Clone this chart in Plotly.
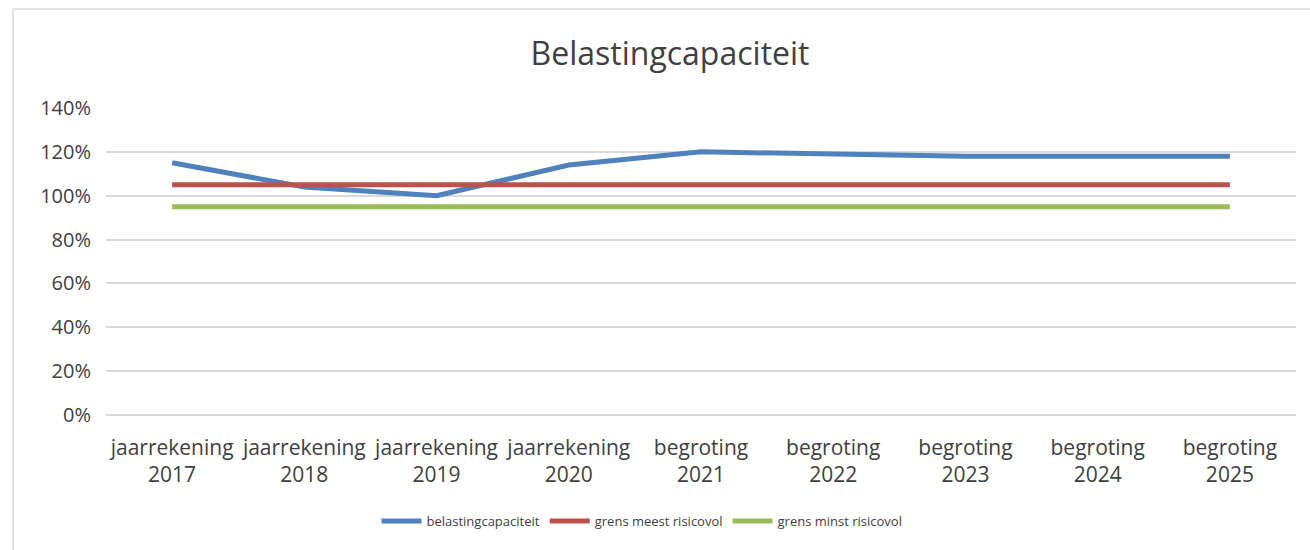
import plotly.graph_objects as go

categories = ["jaarrekening<br>2017", "jaarrekening<br>2018", "jaarrekening<br>2019",
              "jaarrekening<br>2020", "begroting<br>2021", "begroting<br>2022",
              "begroting<br>2023", "begroting<br>2024", "begroting<br>2025"]
belastingcapaciteit = [115, 104, 100, 114, 120, 119, 118, 118, 118]
grens_meest = [105, 105, 105, 105, 105, 105, 105, 105, 105]
grens_minst = [95, 95, 95, 95, 95, 95, 95, 95, 95]
y_ticks = [0, 20, 40, 60, 80, 100, 120, 140]
y_tick_labels = ["0%", "20%", "40%", "60%", "80%", "100%", "120%", "140%"]

font_family = "Open Sans, Noto Sans, Liberation Sans, sans-serif"

fig = go.Figure()
fig.add_trace(go.Scatter(x=categories, y=belastingcapaciteit, mode="lines",
                         name="belastingcapaciteit",
                         line=dict(color="#4f81bd", width=5)))
fig.add_trace(go.Scatter(x=categories, y=grens_meest, mode="lines",
                         name="grens meest risicovol",
                         line=dict(color="#c0504d", width=5)))
fig.add_trace(go.Scatter(x=categories, y=grens_minst, mode="lines",
                         name="grens minst risicovol",
                         line=dict(color="#9bbb59", width=5)))

L, R, T, B = 106, 14, 108, 135
W, H = 1310, 550
pw, ph = W - L - R, H - T - B

fig.update_layout(
    width=W, height=H,
    margin=dict(l=L, r=R, t=T, b=B),
    paper_bgcolor="white", plot_bgcolor="white",
    font=dict(family=font_family, color="#404040", size=18),
    title=dict(text="Belastingcapaciteit", x=670 / W, xref="container", xanchor="center",
               y=1 - 54 / H, yref="container", yanchor="middle",
               font=dict(size=32, color="#404040", family=font_family)),
    showlegend=True,
    legend=dict(orientation="h", x=(642 - L) / pw, xanchor="center",
                y=(H - B - 521) / ph, yanchor="middle",
                font=dict(size=13, color="#404040"), itemwidth=40,
                tracegroupgap=0),
    xaxis=dict(type="category", range=[-0.5, 8.5], showgrid=False,
               showline=False, ticks="", ticklabelstandoff=18,
               tickfont=dict(size=21, color="#404040")),
    yaxis=dict(range=[0, 140], tickmode="array", tickvals=y_ticks, ticktext=y_tick_labels,
               showgrid=True, gridcolor="#d9d9d9", gridwidth=1.5,
               zeroline=True, zerolinecolor="#d9d9d9", zerolinewidth=1.5,
               showline=False, ticks="", ticklabelstandoff=14,
               tickfont=dict(size=20, color="#404040")),
)

# chart-area border (left and top edges visible in the reference)
bx = (13 - L) / pw
by = (H - B - 9) / ph
fig.add_shape(type="line", xref="paper", yref="paper", x0=bx, x1=bx, y0=by, y1=-(B + 5) / ph,
              line=dict(color="#d9d9d9", width=1.5))
fig.add_shape(type="line", xref="paper", yref="paper", x0=bx, x1=(W + 5 - L) / pw, y0=by, y1=by,
              line=dict(color="#d9d9d9", width=1.5))

fig.write_html("out.html", config={"displayModeBar": False},
               post_script="document.body.style.margin='0';document.body.style.padding='0';")
